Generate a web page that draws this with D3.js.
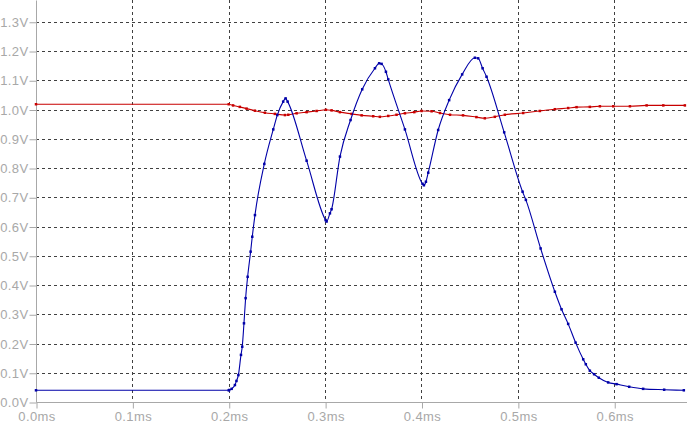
<!DOCTYPE html>
<html>
<head>
<meta charset="utf-8">
<script src="https://cdn.jsdelivr.net/npm/d3@7"></script>
<style>
  body { margin: 0; background: #fff; }
  svg { display: block; }
  .tick text { font-family: "Liberation Sans", Arial, sans-serif; font-size: 13px; fill: #a8a8a8; letter-spacing: 0.4px; }
</style>
</head>
<body>
<div id="chart"></div>
<script>
// time in ms, voltage in V
const blueT = [0, 0.2, 0.2005, 0.203, 0.2064, 0.208, 0.210, 0.2127, 0.214, 0.2158, 0.2175, 0.2196, 0.2227, 0.2244, 0.2272,
  0.2369, 0.2462, 0.2504, 0.2565, 0.259, 0.2611, 0.2808, 0.3005, 0.3015, 0.305, 0.3067, 0.3154, 0.3264, 0.3385, 0.3517,
  0.3561, 0.3586, 0.3631, 0.3655, 0.3828, 0.4011, 0.4025, 0.4046, 0.407, 0.4173, 0.4287, 0.4422, 0.4554, 0.4588, 0.4634,
  0.4675, 0.4858, 0.5049, 0.5083, 0.5236, 0.5384, 0.5453, 0.5522, 0.5599, 0.5678, 0.5705, 0.5747, 0.5791, 0.584, 0.5937,
  0.6024, 0.6155, 0.63, 0.6518, 0.6722];
const blueV = [0.040, 0.040, 0.041, 0.045, 0.058, 0.072, 0.092, 0.161, 0.189, 0.269, 0.355, 0.428, 0.514, 0.565, 0.639,
  0.814, 0.932, 0.981, 1.027, 1.038, 1.027, 0.825, 0.622, 0.617, 0.645, 0.659, 0.839, 0.964, 1.069, 1.141,
  1.158, 1.156, 1.129, 1.103, 0.932, 0.746, 0.741, 0.753, 0.784, 0.930, 1.032, 1.120, 1.177, 1.175, 1.141,
  1.112, 0.922, 0.719, 0.691, 0.525, 0.377, 0.317, 0.267, 0.203, 0.146, 0.129, 0.107, 0.095, 0.083, 0.067,
  0.061, 0.052, 0.045, 0.042, 0.040];

const redT = [0, 0.2, 0.2045, 0.2115, 0.2185, 0.2271, 0.2375, 0.2479, 0.2583, 0.2618, 0.2704, 0.2808, 0.2912, 0.3008,
  0.3067, 0.3154, 0.3275, 0.3379, 0.3499, 0.3568, 0.3655, 0.3741, 0.3828, 0.3925, 0.4001, 0.4105, 0.4192, 0.4296,
  0.4431, 0.4570, 0.4657, 0.4761, 0.4865, 0.5055, 0.5228, 0.5384, 0.5522, 0.5609, 0.5747, 0.5851, 0.5990, 0.6163,
  0.6336, 0.6509, 0.6733];
const redV = [1.018, 1.018, 1.014, 1.009, 1.003, 0.996, 0.989, 0.985, 0.981, 0.982, 0.987, 0.991, 0.995, 0.999,
  0.997, 0.991, 0.985, 0.980, 0.977, 0.975, 0.978, 0.982, 0.987, 0.991, 0.995, 0.994, 0.988, 0.982,
  0.980, 0.974, 0.970, 0.975, 0.982, 0.988, 0.995, 1.001, 1.005, 1.008, 1.009, 1.011, 1.011, 1.011,
  1.014, 1.014, 1.014];

const xTicks = [0, 0.1, 0.2, 0.3, 0.4, 0.5, 0.6];
const yTicks = [0, 0.1, 0.2, 0.3, 0.4, 0.5, 0.6, 0.7, 0.8, 0.9, 1.0, 1.1, 1.2, 1.3];

const width = 687, height = 426;
const margin = { left: 36, top: 0, right: 0, bottom: 24 };

const svg = d3.select('#chart').append('svg')
  .attr('width', width)
  .attr('height', height);

const x = d3.scaleLinear().domain([0, 0.6755]).range([margin.left, width]);
const y = d3.scaleLinear().domain([0, 1.3744]).range([height - margin.bottom, 0]);

// dashed grid
const grid = svg.append('g').attr('class', 'grid');
grid.selectAll('line.h')
  .data(yTicks.filter(d => d > 0))
  .enter().append('line')
  .attr('x1', margin.left).attr('x2', width)
  .attr('y1', d => Math.round(y(d)) + 0.5).attr('y2', d => Math.round(y(d)) + 0.5)
  .attr('stroke', '#404040').attr('stroke-dasharray', '3,3');
grid.selectAll('line.v')
  .data(xTicks.filter(d => d > 0))
  .enter().append('line')
  .attr('x1', d => Math.round(x(d)) + 0.5).attr('x2', d => Math.round(x(d)) + 0.5)
  .attr('y1', 0).attr('y2', y(0))
  .attr('stroke', '#404040').attr('stroke-dasharray', '3,3');

// axes
const xAxis = d3.axisBottom(x).tickValues(xTicks).tickSize(6).tickPadding(3)
  .tickFormat(d => d.toFixed(1) + 'ms');
const gx = svg.append('g')
  .attr('transform', `translate(0.5,${Math.round(y(0)) + 0.5})`)
  .call(xAxis);
gx.select('.domain').attr('d', `M${margin.left},0H${width}`).attr('stroke', '#a8a8a8');
gx.selectAll('.tick line').attr('stroke', '#a8a8a8');

const yAxis = d3.axisLeft(y).tickValues(yTicks).tickSize(7).tickPadding(1)
  .tickFormat(d => d.toFixed(1) + 'V');
const gy = svg.append('g')
  .attr('transform', `translate(${margin.left + 0.5},0.5)`)
  .call(yAxis);
gy.select('.domain').attr('d', `M0,0V${y(0)}`).attr('stroke', '#a8a8a8');
gy.selectAll('.tick line').attr('stroke', '#a8a8a8');

// traces
const series = [
  { t: redT, v: redV, color: '#c80000' },
  { t: blueT, v: blueV, color: '#0000a8' }
];

const line = d3.line().curve(d3.curveMonotoneX).x(d => x(d[0])).y(d => y(d[1]));

series.forEach(s => {
  const pts = s.t.map((t, i) => [t, s.v[i]]);
  svg.append('path')
    .datum(pts)
    .attr('fill', 'none')
    .attr('stroke', s.color)
    .attr('stroke-width', 1.1)
    .attr('d', line);
  svg.append('g').selectAll('rect')
    .data(pts)
    .enter().append('rect')
    .attr('x', d => x(d[0]) - 1.25)
    .attr('y', d => y(d[1]) - 1.25)
    .attr('width', 2.5).attr('height', 2.5)
    .attr('fill', s.color);
});
</script>
</body>
</html>
